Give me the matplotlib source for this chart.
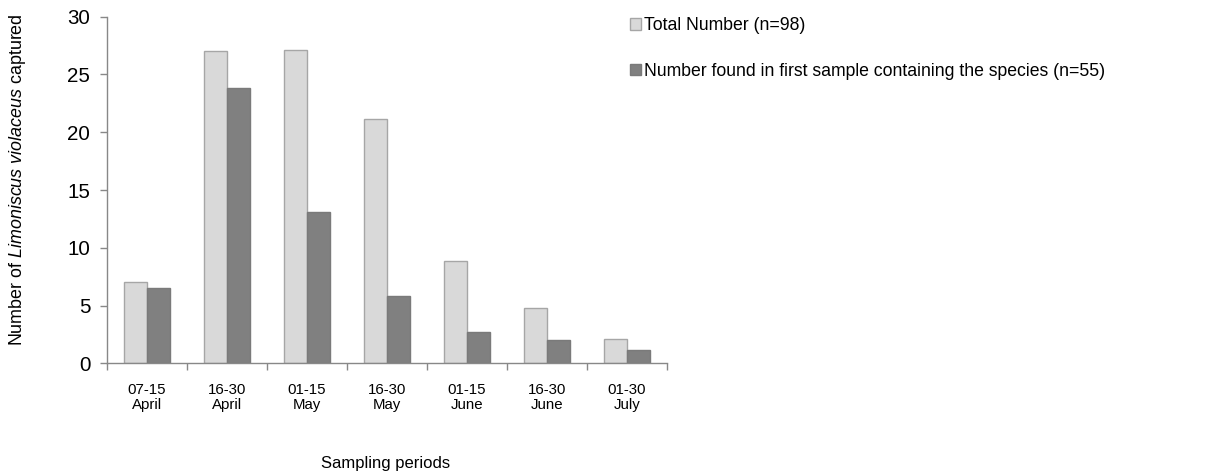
import matplotlib
matplotlib.use("Agg")
import matplotlib.pyplot as plt
from matplotlib.patches import Patch
import numpy as np

periods = ["07-15\nApril", "16-30\nApril", "01-15\nMay", "16-30\nMay",
           "01-15\nJune", "16-30\nJune", "01-30\nJuly"]
total_number = [7.0, 27.0, 27.1, 21.1, 8.9, 4.75, 2.15]
first_sample = [6.5, 23.8, 13.1, 5.85, 2.7, 2.05, 1.15]
legend_labels = ["Total Number (n=98)",
                 "Number found in first sample containing the species (n=55)"]

plt.rcParams['font.family'] = ['Liberation Sans', 'DejaVu Sans']
plt.rcParams['mathtext.fontset'] = 'custom'
plt.rcParams['mathtext.rm'] = 'Liberation Sans'
plt.rcParams['mathtext.it'] = 'Liberation Sans:italic'

fig = plt.figure(figsize=(12.16, 4.75), dpi=100)
ax = fig.add_axes([0.088, 0.235, 0.4605, 0.73])

x = np.arange(len(periods))
w = 0.29
light = '#d9d9d9'
dark = '#808080'
ax.bar(x - w / 2, total_number, w, color=light, edgecolor='#a6a6a6', linewidth=1)
ax.bar(x + w / 2, first_sample, w, color=dark, edgecolor='#7a7a7a', linewidth=1)

ax.set_xlim(-0.5, len(periods) - 0.5)
ax.set_ylim(0, 30)
ax.set_yticks([0, 5, 10, 15, 20, 25, 30])
ax.tick_params(axis='y', labelsize=14.8, colors='#888888', labelcolor='black',
               length=5, width=1, pad=7)
ax.set_xticks(x)
ax.set_xticklabels(periods, fontsize=10.8, linespacing=1.15)
ax.tick_params(axis='x', length=0, pad=14)
ax.set_xticks(np.arange(len(periods) + 1) - 0.5, minor=True)
ax.tick_params(axis='x', which='minor', length=5, width=1, colors='#888888')

for s in ['top', 'right']:
    ax.spines[s].set_visible(False)
for s in ['left', 'bottom']:
    ax.spines[s].set_color('#888888')
    ax.spines[s].set_linewidth(1)

fig.text(0.014, 0.621, r"Number of $\it{Limoniscus\ violaceus}$ captured",
         rotation=90, ha='center', va='center', fontsize=12.9)
fig.text(0.317, 0.025, "Sampling periods", ha='center', va='center', fontsize=12)

handles = [Patch(facecolor=light, edgecolor='#a6a6a6'),
           Patch(facecolor=dark, edgecolor='#7a7a7a')]
fig.legend(handles, legend_labels, loc='upper left', bbox_to_anchor=(0.505, 0.997),
           frameon=False, fontsize=12.7, handlelength=0.6, handleheight=0.6,
           handletextpad=0.2, labelspacing=1.6)

fig.savefig("out.png", dpi=100)
